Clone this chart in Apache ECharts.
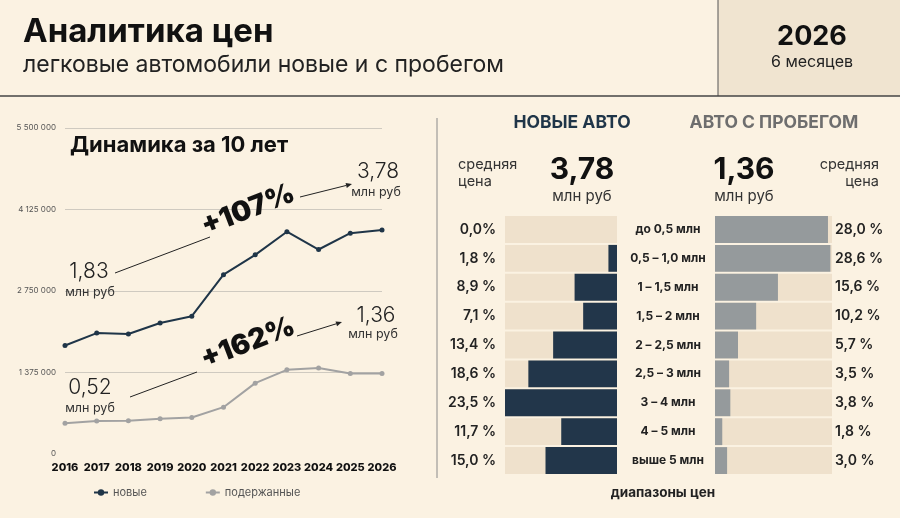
<!DOCTYPE html>
<html>
<head>
<meta charset="utf-8">
<script src="https://cdn.jsdelivr.net/npm/echarts@6/dist/echarts.min.js"></script>
<style>
html, body { margin: 0; padding: 0; background: #fbf2e2; }
#main { width: 900px; height: 518px; }
</style>
</head>
<body>
<div id="main"></div>
<script>
// динамика цен, руб
var years = ['2016', '2017', '2018', '2019', '2020', '2021', '2022', '2023', '2024', '2025', '2026'];
var newPrices = [1830000, 2040000, 2025000, 2210000, 2325000, 3025000, 3360000, 3750000, 3450000, 3725000, 3780000];
var usedPrices = [520000, 555000, 560000, 595000, 615000, 790000, 1195000, 1420000, 1450000, 1360000, 1360000];

// диапазоны цен, доля в %
var ranges = ['до 0,5 млн', '0,5 – 1,0 млн', '1 – 1,5 млн', '1,5 – 2 млн', '2 – 2,5 млн', '2,5 – 3 млн', '3 – 4 млн', '4 – 5 млн', 'выше 5 млн'];
var newShares = [0.0, 1.8, 8.9, 7.1, 13.4, 18.6, 23.5, 11.7, 15.0];
var usedShares = [28.0, 28.6, 15.6, 10.2, 5.7, 3.5, 3.8, 1.8, 3.0];
var newLabels = ['0,0%', '1,8 %', '8,9 %', '7,1 %', '13,4 %', '18,6 %', '23,5 %', '11,7 %', '15,0 %'];
var usedLabels = ['28,0 %', '28,6 %', '15,6 %', '10,2 %', '5,7 %', '3,5 %', '3,8 %', '1,8 %', '3,0 %'];

var FONT = 'Inter, "Noto Sans", sans-serif';
var NAVY = '#1f3548';
var GREY = '#a2a2a2';

var myChart = echarts.init(document.getElementById('main'));

function txt(text, x, y, size, opts) {
    opts = opts || {};
    return {
        type: 'text', x: x, y: y, rotation: opts.rotation || 0, z: 10,
        style: {
            text: text, fontSize: size, fontFamily: opts.family || FONT,
            fontWeight: opts.weight || 'normal', fill: opts.color || '#222',
            align: opts.align || 'center', verticalAlign: 'middle'
        }
    };
}

function line(x1, y1, x2, y2, color, w) {
    return { type: 'line', z: 5, shape: { x1: x1, y1: y1, x2: x2, y2: y2 }, style: { stroke: color || '#222', lineWidth: w || 1 } };
}

// стрелка: линия + треугольник на конце
function arrow(x1, y1, x2, y2) {
    var dx = x2 - x1, dy = y2 - y1, len = Math.sqrt(dx * dx + dy * dy);
    var ux = dx / len, uy = dy / len;
    var bx = x2 - ux * 6, by = y2 - uy * 6;
    return [
        line(x1, y1, bx, by, '#222', 1),
        { type: 'polygon', z: 5, shape: { points: [[x2, y2], [bx - uy * 2.5, by + ux * 2.5], [bx + uy * 2.5, by - ux * 2.5]] }, style: { fill: '#222' } }
    ];
}

function spaced(v) {
    return String(v).replace(/\B(?=(\d{3})+(?!\d))/g, ' ');
}

var graphics = [
    { type: 'rect', z: 0, shape: { x: 718, y: 0, width: 182, height: 96 }, style: { fill: '#f0e4d0' } },
    line(718, 0, 718, 96, '#555', 1),
    line(0, 96, 900, 96, '#444', 1.5),
    line(437, 118, 437, 478, '#8a8a8a', 1),
    txt('Аналитика цен', 23, 32, 33, { weight: 'bold', align: 'left', color: '#111' }),
    txt('легковые автомобили новые и с пробегом', 23, 65, 23, { align: 'left', color: '#222' }),
    txt('2026', 812, 37, 27, { weight: 'bold', color: '#111' }),
    txt('6 месяцев', 812, 62, 16, { color: '#222' }),

    txt('Динамика за 10 лет', 70, 145, 22, { weight: 'bold', align: 'left', color: '#111' }),
    txt('+107%', 248, 210, 28, { weight: 900, color: '#111', rotation: 0.37 }),
    txt('+162%', 248, 343, 28, { weight: 900, color: '#111', rotation: 0.37 }),
    txt('3,78', 378, 172, 21, { weight: 300 }),
    txt('млн руб', 376, 192, 12.5, { color: '#333' }),
    txt('1,83', 89, 272, 21, { weight: 300 }),
    txt('млн руб', 90, 292, 12.5, { color: '#333' }),
    txt('1,36', 376, 316, 21, { weight: 300 }),
    txt('млн руб', 373, 334, 12.5, { color: '#333' }),
    txt('0,52', 90, 388, 21, { weight: 300 }),
    txt('млн руб', 90, 408, 12.5, { color: '#333' }),
    line(115, 273, 210, 237, '#222', 1),
    line(130, 397, 197, 372, '#222', 1),

    txt('НОВЫЕ АВТО', 572, 123, 17.5, { weight: 'bold', color: NAVY }),
    txt('АВТО С ПРОБЕГОМ', 774, 123, 17.5, { weight: 'bold', color: '#6e6e6e' }),
    txt('средняя', 458, 165, 14.5, { align: 'left', color: '#333' }),
    txt('цена', 458, 182, 14.5, { align: 'left', color: '#333' }),
    txt('3,78', 582, 170, 30, { weight: 'bold', color: '#111' }),
    txt('млн руб', 582, 196, 15, { color: '#333' }),
    txt('1,36', 744, 170, 30, { weight: 'bold', color: '#111' }),
    txt('млн руб', 744, 196, 15, { color: '#333' }),
    txt('средняя', 879, 165, 14.5, { align: 'right', color: '#333' }),
    txt('цена', 879, 182, 14.5, { align: 'right', color: '#333' }),
    txt('диапазоны цен', 663, 493, 13.5, { weight: 'bold', color: '#222' })
].concat(arrow(300, 197, 352, 184), arrow(297, 336, 342, 322));

var option = {
    backgroundColor: '#fbf2e2',
    animation: false,
    textStyle: { fontFamily: FONT },
    legend: {
        data: ['новые', 'подержанные'],
        left: 88, top: 482, itemGap: 58, itemWidth: 14, itemHeight: 8,
        textStyle: { fontSize: 11, color: '#555', fontFamily: FONT }
    },
    grid: [
        { left: 65, top: 128, width: 317, height: 326 },
        { left: 505, top: 215, width: 112, height: 260 },
        { left: 715, top: 215, width: 117, height: 260 }
    ],
    xAxis: [
        {
            gridIndex: 0, type: 'category', data: years, boundaryGap: false,
            axisLine: { show: false }, axisTick: { show: false },
            axisLabel: { interval: 0, fontSize: 11, fontWeight: 800, color: '#111', margin: 8 }
        },
        { gridIndex: 1, type: 'value', min: 0, max: 23.5, inverse: true, show: false },
        { gridIndex: 2, type: 'value', min: 0, max: 29, show: false }
    ],
    yAxis: [
        {
            gridIndex: 0, type: 'value', min: 0, max: 5500000, interval: 1375000,
            axisLabel: { fontSize: 8, color: '#555', margin: 9, formatter: spaced },
            splitLine: { lineStyle: { color: ['rgba(0,0,0,0)', '#cfcac0', '#cfcac0', '#cfcac0', '#cfcac0'], width: 1 } }
        },
        {
            gridIndex: 1, type: 'category', data: ranges, inverse: true, position: 'left',
            axisLine: { show: false, onZero: false }, axisTick: { show: false },
            axisLabel: {
                fontSize: 14, fontWeight: 600, color: '#222', margin: 9,
                formatter: function (v, i) { return newLabels[i]; }
            }
        },
        {
            gridIndex: 2, type: 'category', data: ranges, inverse: true, position: 'left',
            axisLine: { show: false, onZero: false }, axisTick: { show: false },
            axisLabel: { fontSize: 12, fontWeight: 'bold', color: '#222', align: 'center', margin: 47 }
        },
        {
            gridIndex: 2, type: 'category', data: ranges, inverse: true, position: 'right',
            axisLine: { show: false, onZero: false }, axisTick: { show: false },
            axisLabel: {
                fontSize: 14, fontWeight: 600, color: '#222', align: 'left', margin: 3,
                formatter: function (v, i) { return usedLabels[i]; }
            }
        }
    ],
    series: [
        {
            name: 'новые', type: 'line', xAxisIndex: 0, yAxisIndex: 0, data: newPrices,
            symbol: 'circle', symbolSize: 5, color: NAVY, lineStyle: { width: 2 }
        },
        {
            name: 'подержанные', type: 'line', xAxisIndex: 0, yAxisIndex: 0, data: usedPrices,
            symbol: 'circle', symbolSize: 5, color: GREY, lineStyle: { width: 2 }
        },
        {
            name: 'новые авто', type: 'bar', xAxisIndex: 1, yAxisIndex: 1, data: newShares,
            barCategoryGap: '7%', itemStyle: { color: '#22364a' },
            showBackground: true, backgroundStyle: { color: '#efe1cc' }
        },
        {
            name: 'авто с пробегом', type: 'bar', xAxisIndex: 2, yAxisIndex: 2, data: usedShares,
            barCategoryGap: '7%', itemStyle: { color: '#959a9c' },
            showBackground: true, backgroundStyle: { color: '#efe1cc' }
        }
    ],
    graphic: graphics
};

myChart.setOption(option);
</script>
</body>
</html>
